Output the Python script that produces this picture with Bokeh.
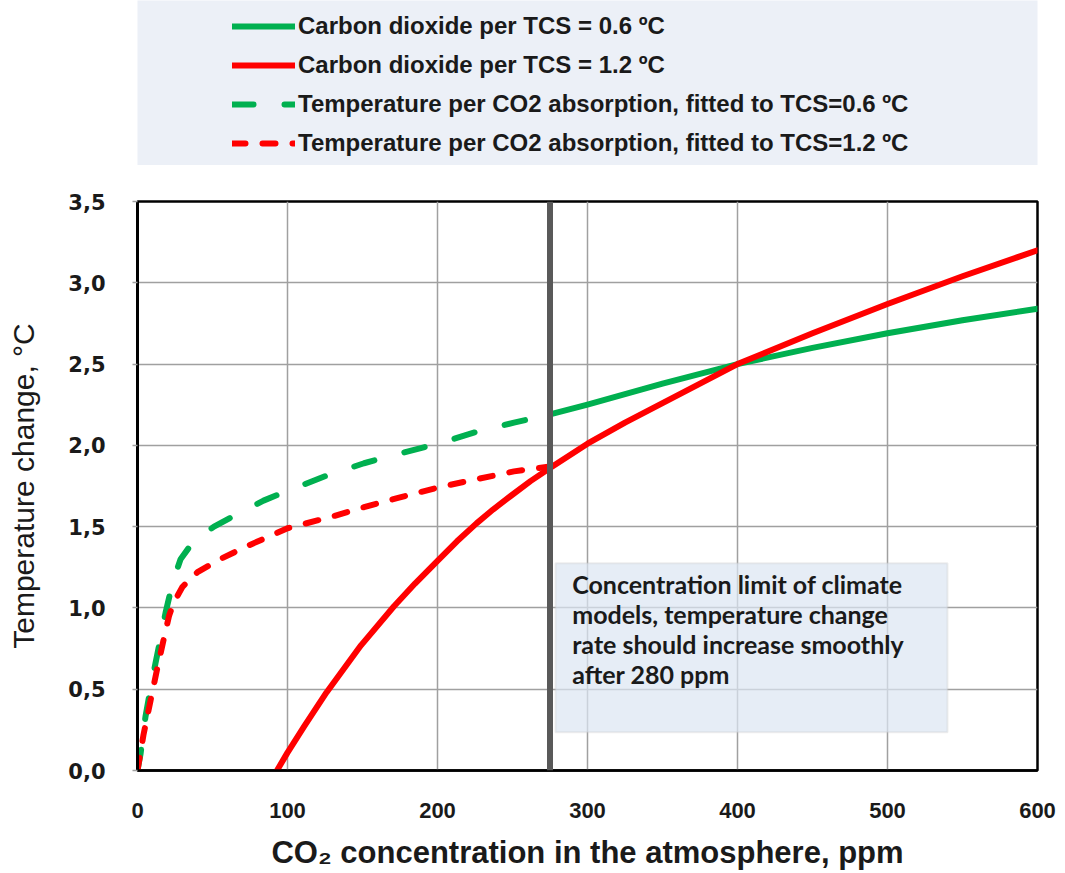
from bokeh.plotting import figure
from bokeh.models import (Span, BoxAnnotation, Label, Legend, LegendItem,
                          FixedTicker, CustomJSTickFormatter, Range1d)
from bokeh.layouts import column
from bokeh.embed import file_html
from bokeh.resources import INLINE

# ---------------- data ----------------
green_solid_x = [275, 300, 350, 400, 450, 500, 550, 600]
green_solid_y = [2.19, 2.25, 2.38, 2.50, 2.60, 2.69, 2.77, 2.84]

red_solid_x = [93, 100, 111, 126, 149, 171, 185, 200, 213, 226, 237, 249,
               262, 275, 300, 325, 350, 375, 400, 450, 500, 550, 600]
red_solid_y = [0.0, 0.11, 0.27, 0.48, 0.77, 1.01, 1.15, 1.29, 1.41, 1.52, 1.605,
               1.69, 1.78, 1.86, 2.01, 2.14, 2.26, 2.38, 2.50, 2.69, 2.87,
               3.04, 3.20]

green_dash_x = [0, 2, 5.3, 9, 12, 15.5, 18.7, 22, 25, 28.7, 35, 42, 51, 65, 84,
                100, 125, 151, 175, 200, 225, 251, 275]
green_dash_y = [0, 0.10, 0.33, 0.52, 0.66, 0.82, 0.97, 1.10, 1.20, 1.30, 1.38,
                1.44, 1.50, 1.57, 1.66, 1.72, 1.81, 1.89, 1.95, 2.01, 2.08, 2.14, 2.19]

red_dash_x = [0, 4, 8.7, 13, 17.3, 21, 24, 30, 40, 55, 73, 100, 129, 151, 175,
              200, 225, 251, 275]
red_dash_y = [0, 0.22, 0.43, 0.62, 0.80, 0.95, 1.03, 1.13, 1.22, 1.30, 1.38,
              1.49, 1.56, 1.62, 1.68, 1.74, 1.79, 1.84, 1.87]

co2_limit = 275
x_ticks = [0, 100, 200, 300, 400, 500, 600]
y_ticks = [0.0, 0.5, 1.0, 1.5, 2.0, 2.5, 3.0, 3.5]

legend_labels = [
    "Carbon dioxide per TCS = 0.6 ºC",
    "Carbon dioxide per TCS = 1.2 ºC",
    "Temperature per CO2 absorption, fitted to TCS=0.6 ºC",
    "Temperature per CO2 absorption, fitted to TCS=1.2 ºC",
]
note_text = ("Concentration limit of climate\nmodels, temperature change\n"
             "rate should increase smoothly\nafter 280 ppm")
x_title = "CO₂ concentration in the atmosphere, ppm"
y_title = "Temperature change, °C"

GREEN = "#00b050"
RED = "#ff0000"
GREEN_DASH = "21 31"
RED_DASH = "13 17"

series = [
    (green_solid_x, green_solid_y, GREEN, None),
    (red_solid_x, red_solid_y, RED, None),
    (green_dash_x, green_dash_y, GREEN, GREEN_DASH),
    (red_dash_x, red_dash_y, RED, RED_DASH),
]


def add_line(fig, xs, ys, color, dash):
    kw = dict(line_color=color, line_width=6, line_cap="round", line_join="round")
    if dash:
        kw["line_dash"] = dash
    return fig.line(xs, ys, **kw)


# ---------------- legend panel (top) ----------------
# its ranges lie away from the data, so only the legend samples are visible here
top = figure(width=1065, height=165, x_range=Range1d(-2, -1), y_range=Range1d(-2, -1),
             output_backend="svg", toolbar_location=None,
             x_axis_type=None, y_axis_type=None,
             min_border_left=137, min_border_right=28,
             min_border_top=0, min_border_bottom=0,
             background_fill_color="#ecf0f7", border_fill_color="white",
             outline_line_color=None)
top.grid.visible = False

legend_renderers = [add_line(top, xs, ys, c, d) for xs, ys, c, d in series]

legend = Legend(
    items=[LegendItem(label=lab, renderers=[r])
           for lab, r in zip(legend_labels, legend_renderers)],
    location=(95, 7), orientation="vertical",
    glyph_width=63, glyph_height=30, label_height=30, spacing=9,
    padding=0, margin=0, label_standoff=3,
    border_line_color=None, background_fill_alpha=0,
    label_text_font="Liberation Sans", label_text_font_style="bold",
    label_text_font_size="24px", label_text_color="#1a1a1a",
)
top.add_layout(legend)

# ---------------- main chart ----------------
p = figure(width=1065, height=708, x_range=Range1d(0, 600), y_range=Range1d(0, 3.5),
           output_backend="svg", toolbar_location=None,
           min_border_left=137, min_border_right=28,
           min_border_top=36, min_border_bottom=103,
           background_fill_color="white", border_fill_color="white")

p.grid.grid_line_color = "#a0a0a0"
p.grid.grid_line_width = 1.5
p.outline_line_color = "black"
p.outline_line_width = 2.5

p.xaxis.ticker = FixedTicker(ticks=x_ticks)
p.yaxis.ticker = FixedTicker(ticks=y_ticks)
p.yaxis.formatter = CustomJSTickFormatter(code="return tick.toFixed(1).replace('.', ',');")

p.xaxis.axis_label = x_title
p.xaxis.axis_label_text_font = "Liberation Sans"
p.xaxis.axis_label_text_font_style = "bold"
p.xaxis.axis_label_text_font_size = "31px"
p.xaxis.axis_label_text_color = "#1a1a1a"
p.xaxis.axis_label_standoff = 14
p.xaxis.major_label_text_font = "Liberation Sans"
p.xaxis.major_label_text_font_style = "bold"
p.xaxis.major_label_text_font_size = "22px"
p.xaxis.major_label_text_color = "#1a1a1a"
p.xaxis.major_label_standoff = 32
p.xaxis.major_tick_out = 0
p.xaxis.major_tick_in = 0
p.xaxis.minor_tick_out = 0
p.xaxis.minor_tick_in = 0
p.xaxis.axis_line_color = "black"
p.xaxis.axis_line_width = 2.5

p.yaxis.axis_label = y_title
p.yaxis.axis_label_text_font = "Liberation Sans"
p.yaxis.axis_label_text_font_style = "normal"
p.yaxis.axis_label_text_font_size = "30px"
p.yaxis.axis_label_text_color = "#1a1a1a"
p.yaxis.axis_label_standoff = 25
p.yaxis.major_label_text_font = "DejaVu Sans"
p.yaxis.major_label_text_font_style = "bold"
p.yaxis.major_label_text_font_size = "21px"
p.yaxis.major_label_text_color = "#1a1a1a"
p.yaxis.major_label_standoff = 27
p.yaxis.major_tick_out = 5
p.yaxis.major_tick_in = 0
p.yaxis.major_tick_line_color = "#a0a0a0"
p.yaxis.major_tick_line_width = 1.5
p.yaxis.minor_tick_out = 0
p.yaxis.minor_tick_in = 0
p.yaxis.axis_line_color = "black"
p.yaxis.axis_line_width = 3

# note box (semi-transparent so the grid shows through, as in the reference)
p.add_layout(BoxAnnotation(left=278.7, right=540, bottom=0.236, top=1.275,
                           fill_color="#dce6f2", fill_alpha=0.7,
                           line_color="#c8c8c8", line_width=2))

# dashed fits first, solid curves on top
for xs, ys, c, d in [series[2], series[3], series[0], series[1]]:
    add_line(p, xs, ys, c, d)

p.add_layout(Span(location=co2_limit, dimension="height",
                  line_color="#595959", line_width=6))

p.add_layout(Label(x=289.8, y=1.24, text=note_text,
                   text_font="Lato", text_font_style="bold",
                   text_font_size="25px", text_line_height=1.0,
                   text_baseline="top", text_align="left",
                   text_color="#1a1a1a"))

layout = column(top, p)
open("out.html", "w").write(file_html(layout, INLINE))
